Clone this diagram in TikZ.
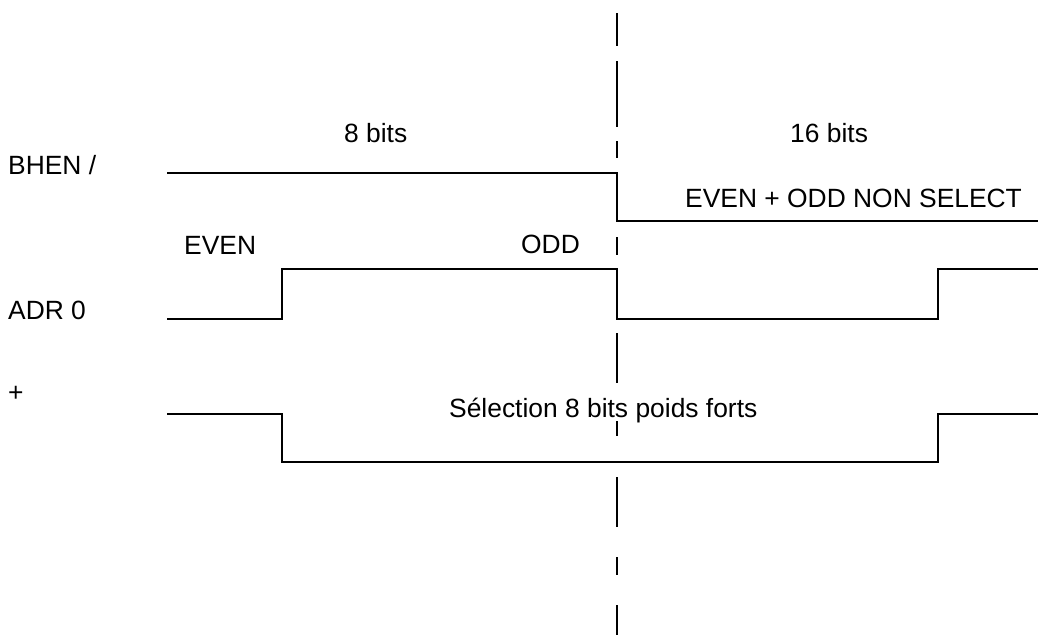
\documentclass[tikz,border=0pt]{standalone}
\usepackage{fontspec}
\setmainfont{Liberation Sans}
\begin{document}
\begin{tikzpicture}[x=1pt,y=-1pt,
  sig/.style={line width=2.2pt,line cap=rect,line join=miter},
  guide/.style={line width=2.6pt},
  lbl/.style={anchor=base west,inner sep=0pt,font=\fontsize{26.4}{30}\selectfont}]
\useasboundingbox[fill=white] (0,0) rectangle (1038,635);
% dashed separator
\foreach \a/\b in {13/46,61/127,141/158,237/255,333/383,421/436,477/527,557/575,605/635}
  \draw[guide] (617,\a) -- (617,\b);
% signals
\draw[sig] (168,173) -- (617,173) -- (617,221) -- (1038,221);
\draw[sig] (168,319) -- (282,319) -- (282,269) -- (617,269) -- (617,319) -- (938,319) -- (938,269) -- (1038,269);
\draw[sig] (168,414) -- (282,414) -- (282,462) -- (938,462) -- (938,414) -- (1038,414);
% labels
\node[lbl] (bhen) at (8,174) {BHEN /};
\node[lbl] (adr) at (8,319) {ADR 0};
\node[lbl] (plus) at (8,401) {+};
\node[lbl] (even) at (184,254) {EVEN};
\node[lbl] (odd) at (521,253) {ODD};
\node[lbl] (b8) at (344,142) {8 bits};
\node[lbl] (b16) at (790,142) {16 bits};
\node[lbl] (nonsel) at (685,207) {EVEN + ODD NON SELECT};
\node[lbl] (sel) at (449,417) {Sélection 8 bits poids forts};
\end{tikzpicture}
\end{document}
